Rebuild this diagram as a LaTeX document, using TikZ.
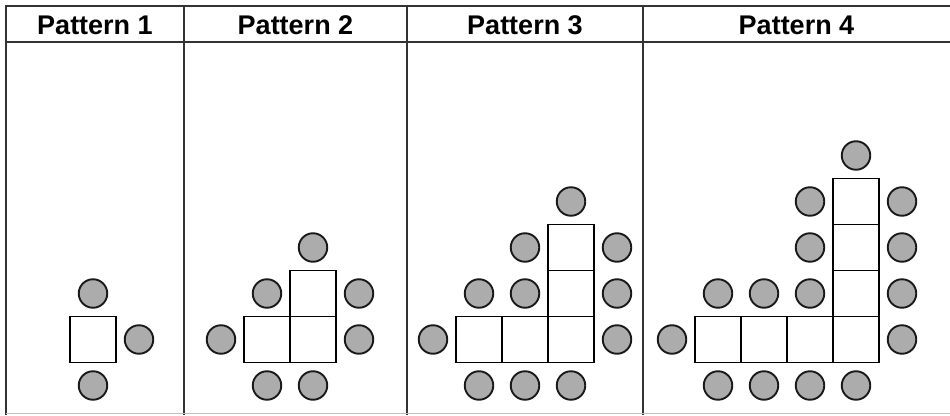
\documentclass[tikz,border=0pt]{standalone}
\usepackage{fontspec}
\setmainfont{Liberation Sans}

\begin{document}
\begin{tikzpicture}[
x=1pt, y=1pt
]

% =====================================================
% Styles
% =====================================================

\tikzstyle{tableline} =
[draw=black!80,
line width=1.7pt]

\tikzstyle{header} =
[font=\bfseries\fontsize{27}{30}\selectfont,
inner sep=0pt]

\tikzstyle{tile} =
[rectangle,
draw=black,
line width=1.8pt,
minimum size=46pt,
inner sep=0pt]

\tikzstyle{counter} =
[circle,
draw=black!90,
fill=gray!65,
line width=1.9pt,
minimum size=28.5pt,
inner sep=0pt]

\useasboundingbox (0,0) rectangle (950,415);

% =====================================================
% Table
% =====================================================

\draw [tableline] (950,409) -- (6,409) -- (6,0);

\draw [tableline] (6,373) -- (950,373);

\foreach \x in {184,407,643}
\draw [tableline] (\x,409) -- (\x,0);

\draw [black!25, line width=0.8pt] (6,2) -- (950,2);

% =====================================================
% Headers
% =====================================================

\node (head1) [header, anchor=base] at (95,380) {Pattern 1};

\node (head2) [header, anchor=base] at (295.5,380) {Pattern 2};

\node (head3) [header, anchor=base] at (525,380) {Pattern 3};

\node (head4) [header, anchor=base] at (796.5,380) {Pattern 4};

% =====================================================
% Pattern 1
% =====================================================

\begin{scope}[shift={(70pt,52.5pt)}, x=46pt, y=46pt]
\foreach \i/\j [count=\k] in {0/0}
\node (p1tile\k) [tile] at (\i+0.5,\j+0.5) {};
\foreach \i/\j [count=\k] in {0/1, 1/0, 0/-1}
\node (p1dot\k) [counter] at (\i+0.5,\j+0.5) {};
\end{scope}

% =====================================================
% Pattern 2
% =====================================================

\begin{scope}[shift={(244pt,52.5pt)}, x=46pt, y=46pt]
\foreach \i/\j [count=\k] in {0/0, 1/0, 1/1}
\node (p2tile\k) [tile] at (\i+0.5,\j+0.5) {};
\foreach \i/\j [count=\k] in {1/2, 0/1, 2/1, 2/0, -1/0, 0/-1, 1/-1}
\node (p2dot\k) [counter] at (\i+0.5,\j+0.5) {};
\end{scope}

% =====================================================
% Pattern 3
% =====================================================

\begin{scope}[shift={(456pt,52.5pt)}, x=46pt, y=46pt]
\foreach \i/\j [count=\k] in {0/0, 1/0, 2/0, 2/1, 2/2}
\node (p3tile\k) [tile] at (\i+0.5,\j+0.5) {};
\foreach \i/\j [count=\k] in {2/3, 1/2, 0/1, 1/1, 3/2, 3/1, 3/0,
-1/0, 0/-1, 1/-1, 2/-1}
\node (p3dot\k) [counter] at (\i+0.5,\j+0.5) {};
\end{scope}

% =====================================================
% Pattern 4
% =====================================================

\begin{scope}[shift={(695pt,52.5pt)}, x=46pt, y=46pt]
\foreach \i/\j [count=\k] in {0/0, 1/0, 2/0, 3/0, 3/1, 3/2, 3/3}
\node (p4tile\k) [tile] at (\i+0.5,\j+0.5) {};
\foreach \i/\j [count=\k] in {3/4, 2/3, 2/2, 0/1, 1/1, 2/1,
4/3, 4/2, 4/1, 4/0, -1/0, 0/-1, 1/-1, 2/-1, 3/-1}
\node (p4dot\k) [counter] at (\i+0.5,\j+0.5) {};
\end{scope}

\end{tikzpicture}
\end{document}
